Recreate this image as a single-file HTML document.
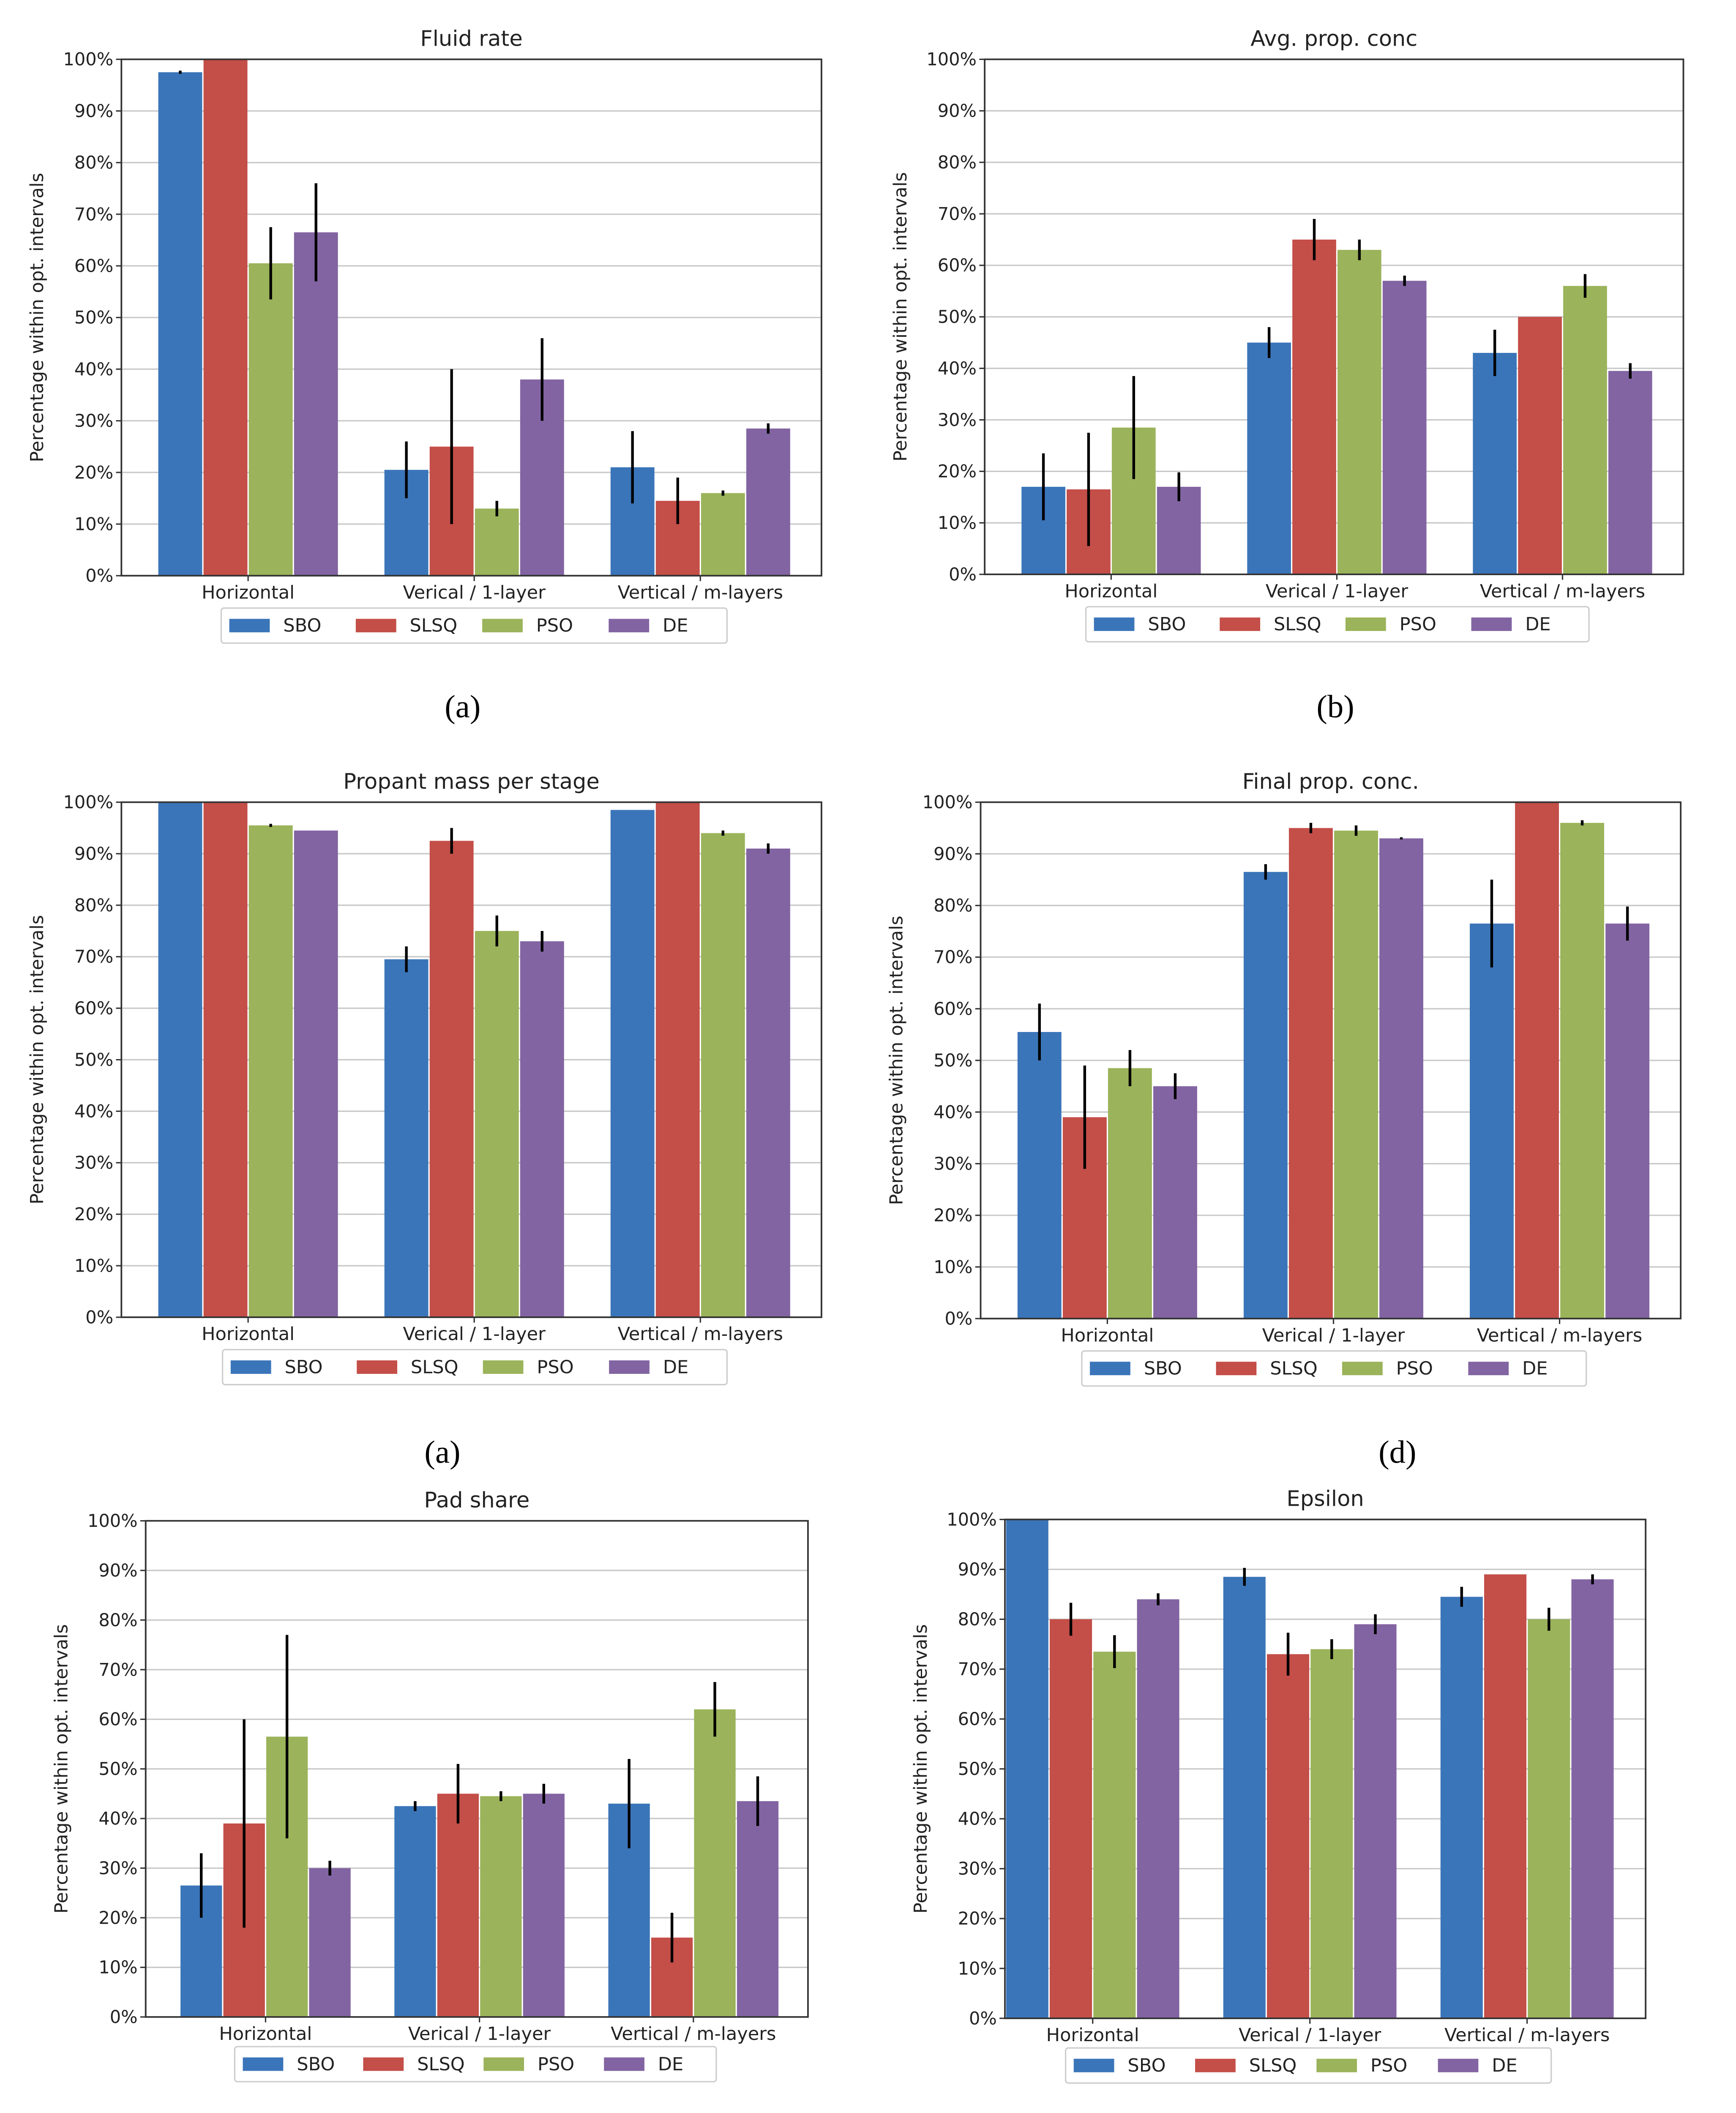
<!DOCTYPE html>
<html><head><meta charset="utf-8">
<style>
html,body{margin:0;padding:0;background:#fff;overflow:hidden;width:4108px;height:5095px;}
svg{display:block;}
text{font-family:"DejaVu Sans","Liberation Sans",sans-serif;}
.cap{font-family:"Liberation Serif",serif;}
</style></head>
<body>
<svg id="fig" width="4108" height="5095" viewBox="0 0 1287 1597" preserveAspectRatio="none" xmlns="http://www.w3.org/2000/svg"></svg>
<script>
const categories = ["Horizontal","Verical / 1-layer","Vertical / m-layers"];
const seriesNames = ["SBO","SLSQ","PSO","DE"];
const yTicks = [0,10,20,30,40,50,60,70,80,90,100];
const fluidVals = [[97.5,20.5,21],[100,25,14.5],[60.5,13,16],[66.5,38,28.5]];
const fluidErr  = [[0.3,5.5,7],[0,15,4.5],[7,1.5,0.5],[9.5,8,1]];
const avgVals = [[17,45,43],[16.5,65,50],[28.5,63,56],[17,57,39.5]];
const avgErr  = [[6.5,3,4.5],[11,4,0],[10,2,2.3],[2.8,1,1.5]];
const massVals = [[100,69.5,98.5],[100,92.5,100],[95.5,75,94],[94.5,73,91]];
const massErr  = [[0,2.5,0],[0,2.5,0],[0.3,3,0.5],[0,2,1]];
const finalVals = [[55.5,86.5,76.5],[39,95,100],[48.5,94.5,96],[45,93,76.5]];
const finalErr  = [[5.5,1.5,8.5],[10,1,0],[3.5,1,0.5],[2.5,0.2,3.3]];
const padVals = [[26.5,42.5,43],[39,45,16],[56.5,44.5,62],[30,45,43.5]];
const padErr  = [[6.5,1,9],[21,6,5],[20.5,1,5.5],[1.5,2,5]];
const epsVals = [[100,88.5,84.5],[80,73,89],[73.5,74,80],[84,79,88]];
const epsErr  = [[0,1.8,2],[3.3,4.3,0],[3.3,2,2.3],[1.2,2,1]];

const colors = ["#3b75b9","#c44e48","#9bb35a","#8264a2"];
const NS="http://www.w3.org/2000/svg";
const svg=document.getElementById('fig');
function mk(tag,attrs,parent){const e=document.createElementNS(NS,tag);for(const k in attrs)e.setAttribute(k,attrs[k]);(parent||svg).appendChild(e);return e;}

const panels=[
 {name:"fluid-rate",title:"Fluid rate",x0:90,x1:609,y0:44,y1:427,vals:fluidVals,err:fluidErr,leg:[164,451,375],cap:"(a)",cx:343,cy:532},
 {name:"avg-prop-conc",title:"Avg. prop. conc",x0:730,x1:1248,y0:44,y1:426,vals:avgVals,err:avgErr,leg:[805,450,373],cap:"(b)",cx:990,cy:532},
 {name:"propant-mass",title:"Propant mass per stage",x0:90,x1:609,y0:595,y1:977,vals:massVals,err:massErr,leg:[165,1001,374],cap:"(a)",cx:328,cy:1085},
 {name:"final-prop-conc",title:"Final prop. conc.",x0:727,x1:1246,y0:595,y1:978,vals:finalVals,err:finalErr,leg:[802,1002,374],cap:"(d)",cx:1036,cy:1085},
 {name:"pad-share",title:"Pad share",x0:108,x1:599,y0:1128,y1:1496,vals:padVals,err:padErr,leg:[174,1518,357]},
 {name:"epsilon",title:"Epsilon",x0:745,x1:1220,y0:1127,y1:1497,vals:epsVals,err:epsErr,leg:[790,1519,360],c0f:0.137,spf:0.339,bwf:0.066}
];

panels.forEach(p=>{
  const g=mk('g',{});
  
  
  const w=p.x1-p.x0, h=p.y1-p.y0;
  const yS=v=>p.y1-v/100*h;
  const c0=p.x0+(p.c0f||0.181)*w, sp=(p.spf||0.323)*w, bw=(p.bwf||0.0627)*w;
  const xS=i=>c0+i*sp;
  yTicks.forEach(t=>{
    const y=yS(t);
    const gl=mk('line',{x1:p.x0,x2:p.x1,y1:y,y2:y,stroke:'#c8c8c8','stroke-width':1},g);
    
    
    mk('line',{x1:p.x0-4,x2:p.x0,y1:y,y2:y,stroke:'#333','stroke-width':1},g);
    const tl=mk('text',{x:p.x0-6,y:y+4.5,'text-anchor':'end','font-size':13,fill:'#222'},g);
    tl.textContent=t+'%';
    
    
  });
  p.vals.forEach((ser,s)=>{
    ser.forEach((v,i)=>{
      const cx=xS(i)+(s-1.5)*(bw+1);
      const r=mk('rect',{x:cx-bw/2,y:yS(v),width:bw,height:yS(0)-yS(v),fill:colors[s]},g);
      
      
      const e=p.err[s][i];
      if(e>0){
        const el=mk('line',{x1:cx,x2:cx,y1:yS(Math.min(100,v+e)),y2:yS(v-e),stroke:'#000','stroke-width':2},g);
        
        
      }
    });
  });
  categories.forEach((c,i)=>{
    mk('line',{x1:xS(i),x2:xS(i),y1:p.y1,y2:p.y1+4,stroke:'#333'},g);
    const t=mk('text',{x:xS(i),y:p.y1+17,'text-anchor':'middle','font-size':13.5,fill:'#222'},g);
    t.textContent=c;
    
    
  });
  const fr=mk('rect',{x:p.x0,y:p.y0,width:w,height:h,fill:'none',stroke:'#333','stroke-width':1.2},g);
  
  
  const tt=mk('text',{x:(p.x0+p.x1)/2,y:p.y0-10,'text-anchor':'middle','font-size':16,fill:'#222'},g);
  tt.textContent=p.title;
  
  
  const yl=mk('text',{x:0,y:0,'text-anchor':'middle','font-size':13.5,fill:'#222',transform:`translate(${p.x0-58},${(p.y0+p.y1)/2}) rotate(-90)`},g);
  yl.textContent='Percentage within opt. intervals';
  
  
  const [lx,ly,lw]=p.leg;
  const lg=mk('g',{},g);
  
  
  mk('rect',{x:lx,y:ly,width:lw,height:26,fill:'#fff',stroke:'#ccc','stroke-width':1,rx:2},lg);
  seriesNames.forEach((n,s)=>{
    const ex=lx+6+s*(lw/4);
    const le=mk('g',{},lg);
    
    
    mk('rect',{x:ex,y:ly+8,width:30,height:10,fill:colors[s]},le);
    const lt=mk('text',{x:ex+40,y:ly+17.5,'font-size':13.5,fill:'#222'},le);
    lt.textContent=n;
  });
  if(p.cap){
    const ct=mk('text',{x:p.cx,y:p.cy,'text-anchor':'middle','font-size':24,fill:'#000','class':'cap'},g);
    ct.textContent=p.cap;
    
    
  }
});
</script>
</body></html>
